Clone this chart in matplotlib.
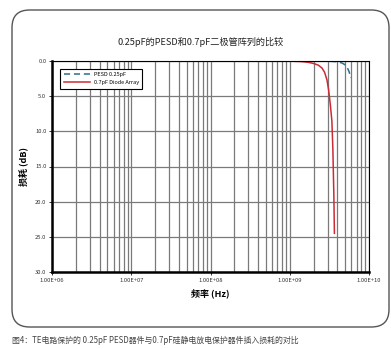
import matplotlib
matplotlib.use("Agg")
import matplotlib.pyplot as plt
from matplotlib.patches import FancyBboxPatch
from matplotlib.ticker import FixedLocator, LogLocator, NullFormatter

plt.rcParams['font.family'] = ['Noto Sans CJK SC', 'DejaVu Sans']

# Insertion loss curves (frequency in Hz, loss in dB)
pesd_freq = [1e6, 1e8, 1e9, 3.0e9, 4.0e9, 4.6e9, 5.0e9, 5.3e9, 5.6e9, 5.9e9]
pesd_loss = [0.0, 0.0, 0.0, 0.02, 0.1, 0.3, 0.55, 0.9, 1.5, 2.4]

diode_freq = [1e6, 1e8, 1e9, 1.4e9, 1.7e9, 2.0e9, 2.3e9, 2.55e9, 2.75e9, 2.95e9,
              3.1e9, 3.25e9, 3.4e9, 3.5e9, 3.6e9, 3.66e9]
diode_loss = [0.0, 0.0, 0.02, 0.08, 0.18, 0.35, 0.6, 1.0, 1.6, 2.7,
              4.2, 6.2, 8.5, 12.5, 19.0, 24.5]

y_ticks = [0.0, 5.0, 10.0, 15.0, 20.0, 25.0, 30.0]
x_ticks = [1e6, 1e7, 1e8, 1e9, 1e10]
x_tick_labels = ['1.00E+06', '1.00E+07', '1.00E+08', '1.00E+09', '1.00E+10']

title = '0.25pF的PESD和0.7pF二极管阵列的比较'
caption = '图4：TE电路保护的 0.25pF PESD器件与0.7pF硅静电放电保护器件插入损耗的对比'

W, H = 391, 349
fig = plt.figure(figsize=(W / 100, H / 100), dpi=100)

# Rounded panel frame, kept behind the axes
frame = FancyBboxPatch((12 / W, 1 - 327 / H), (389 - 12) / W, (327 - 10) / H,
                       boxstyle='round,pad=0,rounding_size=0.045',
                       mutation_aspect=W / H, transform=fig.transFigure,
                       facecolor='white', edgecolor='#555555', linewidth=1.0,
                       zorder=-10)
fig.patches.append(frame)

ax = fig.add_axes([52 / W, 1 - 272 / H, (369 - 52) / W, (272 - 61) / H])
ax.set_zorder(5)
ax.set_xscale('log')
ax.set_xlim(1e6, 1e10)
ax.set_ylim(30, 0)

ax.xaxis.set_major_locator(FixedLocator(x_ticks))
ax.set_xticklabels(x_tick_labels)
ax.xaxis.set_minor_locator(LogLocator(base=10, subs=range(2, 10), numticks=20))
ax.xaxis.set_minor_formatter(NullFormatter())
ax.set_yticks(y_ticks)
ax.set_yticklabels([f'{v:.1f}' for v in y_ticks])

ax.grid(True, which='both', axis='x', color='#7a7a7a', linewidth=0.9)
ax.grid(True, which='major', axis='y', color='#7a7a7a', linewidth=0.9)
ax.set_axisbelow(True)

ax.tick_params(axis='both', which='major', labelsize=4.2, length=2.5,
               width=0.7, pad=1.5, colors='#333333')
ax.tick_params(axis='x', which='minor', length=0)
for side in ('top', 'right'):
    ax.spines[side].set_linewidth(0.8)
for side in ('left', 'bottom'):
    ax.spines[side].set_linewidth(1.8)

ax.plot(pesd_freq, pesd_loss, color='#2b6f8c', linestyle=(0, (4, 2.5)),
        linewidth=1.1, label='PESD 0.25pF')
ax.plot(diode_freq, diode_loss, color='#cc2b36', linewidth=1.1,
        label='0.7pF Diode Array')

leg = ax.legend(loc='upper left', fontsize=4.0, frameon=True, fancybox=False,
                edgecolor='black', framealpha=1, borderpad=0.6,
                handlelength=4.8, labelspacing=0.55, handletextpad=0.6,
                bbox_to_anchor=(0.018, 0.975))
leg.get_frame().set_linewidth(0.8)

ax.set_xlabel('频率 (Hz)', fontsize=6.5, fontweight='bold', labelpad=4)
ax.set_ylabel('损耗 (dB)', fontsize=6.5, fontweight='bold', labelpad=5)

fig.text(201 / W, 1 - 42 / H, title, ha='center', va='center',
         fontsize=6.6, color='#222222')
fig.text(12 / W, 1 - 340 / H, caption, ha='left', va='center',
         fontsize=5.7, color='#444444')

fig.savefig('out.png', dpi=100)
